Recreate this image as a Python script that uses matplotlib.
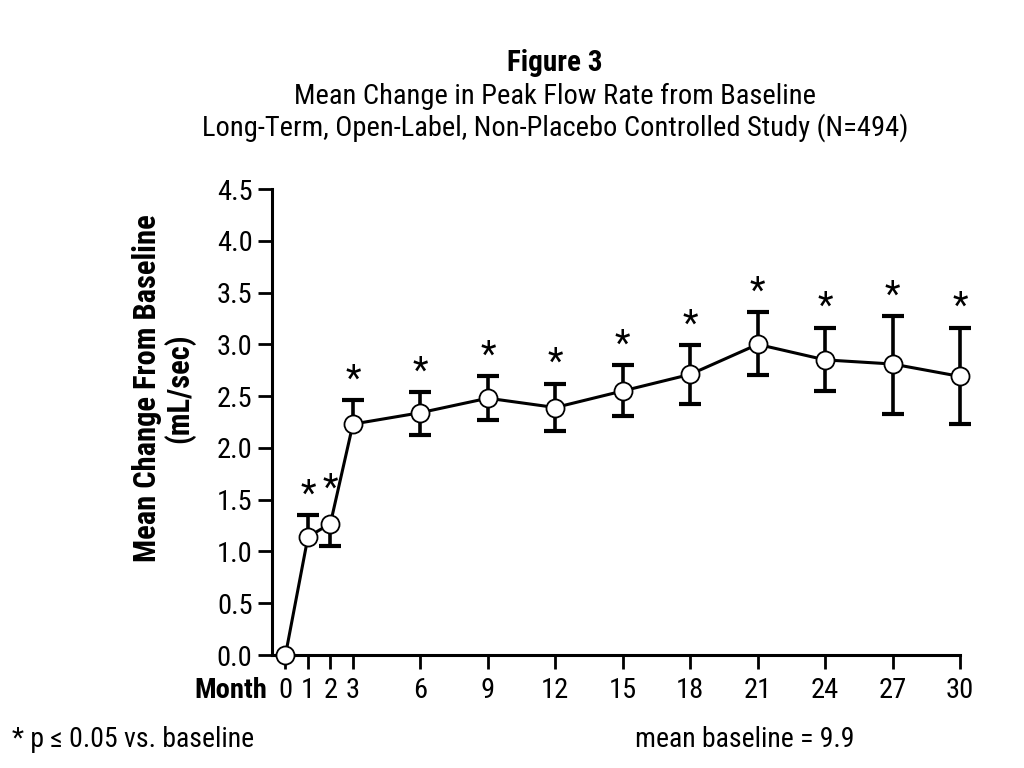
import matplotlib
matplotlib.use("Agg")
import matplotlib.pyplot as plt
from matplotlib import font_manager

# prefer a narrow sans face like the original scan, if one is installed
names = set(f.name for f in font_manager.fontManager.ttflist)
narrow = [n for n in ['Liberation Sans Narrow', 'Roboto Condensed', 'DejaVu Sans Condensed',
                      'Open Sans Condensed', 'Arial Narrow'] if n in names]
plt.rcParams['font.family'] = narrow + ['DejaVu Sans']

# data
months = [0, 1, 2, 3, 6, 9, 12, 15, 18, 21, 24, 27, 30]
mean_change = [0.0, 1.14, 1.27, 2.23, 2.34, 2.48, 2.39, 2.55, 2.71, 3.00, 2.85, 2.81, 2.69]
err_low = [0.0, 0.0, 0.22, 0.0, 0.22, 0.21, 0.23, 0.24, 0.29, 0.30, 0.30, 0.48, 0.46]
err_high = [0.0, 0.21, 0.0, 0.23, 0.20, 0.21, 0.23, 0.25, 0.28, 0.31, 0.31, 0.46, 0.47]
signif = [False] + [True] * 12
yticks = [0.0, 0.5, 1.0, 1.5, 2.0, 2.5, 3.0, 3.5, 4.0, 4.5]

fig = plt.figure(figsize=(10.24, 7.68), dpi=100)
ax = fig.add_axes([0.2656, 0.1471, 0.672, 0.6068])

# upper and lower halves drawn separately so one-sided bars get only one cap
for errs, sign in [(err_high, 1), (err_low, -1)]:
    xs = [m for m, e in zip(months, errs) if e > 0]
    ys = [v + sign * e / 2 for v, e in zip(mean_change, errs) if e > 0]
    es = [e / 2 for e in errs if e > 0]
    eb = ax.errorbar(xs, ys, yerr=es, fmt='none', ecolor='black', elinewidth=2.6,
                     capsize=0, zorder=2)
    for art in eb.lines[2]:
        art.set_clip_on(False)
    ends = [v + sign * e for v, e in zip(mean_change, errs) if e > 0]
    ax.plot(xs, ends, ls='none', marker='_', markersize=16, markeredgewidth=3.0,
            color='black', clip_on=False, zorder=2)

ax.plot(months, mean_change, color='black', lw=2.2, marker='o', markersize=13,
        markerfacecolor='white', markeredgecolor='black', markeredgewidth=1.3,
        clip_on=False, zorder=3)

for m, v, hi, s in zip(months, mean_change, err_high, signif):
    if s:
        off = 2 if hi > 0 else 12
        ax.annotate('*', (m, v + hi), xytext=(0, off), textcoords='offset points',
                    ha='center', va='bottom', fontsize=26, annotation_clip=False)

ax.set_xlim(-0.6, 30)
ax.set_ylim(0, 4.5)
ax.set_xticks(months)
ax.set_xticklabels([str(m) for m in months], fontsize=20.5)
ax.set_yticks(yticks)
ax.set_yticklabels(['%.1f' % t for t in yticks], fontsize=20.5)
ax.tick_params(axis='both', direction='out', length=10, width=2.0, pad=4)
ax.tick_params(axis='x', pad=6)

for side in ['top', 'right']:
    ax.spines[side].set_visible(False)
for side in ['left', 'bottom']:
    ax.spines[side].set_linewidth(2.2)

ax.set_ylabel('Mean Change From Baseline\n(mL/sec)', fontsize=22, fontweight='bold',
              linespacing=1.05)
ax.yaxis.set_label_coords(-0.112, 0.573)

fig.text(0.225, 0.101, 'Month', fontsize=20.5, fontweight='bold', ha='center', va='center')

fig.text(0.542, 0.918, 'Figure 3', fontsize=21, fontweight='bold', ha='center', va='center')
fig.text(0.542, 0.875, 'Mean Change in Peak Flow Rate from Baseline', fontsize=20.5,
         ha='center', va='center')
fig.text(0.542, 0.834, 'Long-Term, Open-Label, Non-Placebo Controlled Study (N=494)',
         fontsize=20.5, ha='center', va='center')

fig.text(0.012, 0.037, '* p \u2264 0.05 vs. baseline', fontsize=20, ha='left', va='center')
fig.text(0.62, 0.037, 'mean baseline = 9.9', fontsize=20, ha='left', va='center')

fig.savefig('out.png', dpi=100)
